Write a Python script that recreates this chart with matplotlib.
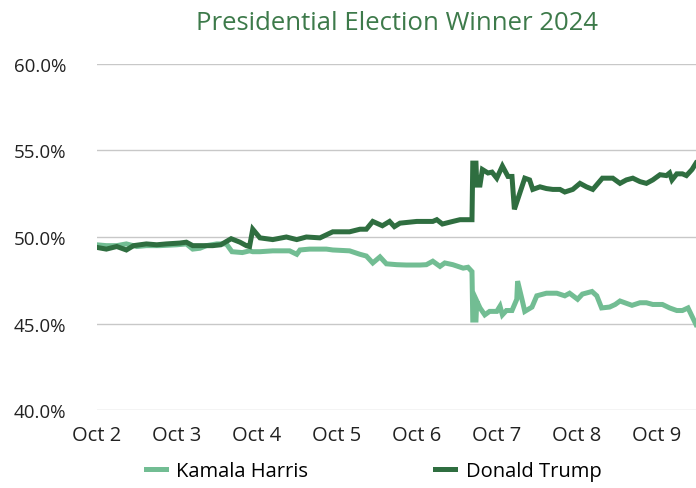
import matplotlib.pyplot as plt
from matplotlib.ticker import FuncFormatter

plt.rcParams['font.family'] = ['Open Sans', 'DejaVu Sans']

# days since Oct 2 (00:00) and win probability in percent
harris_day = [0.00, 0.12, 0.25, 0.37, 0.50, 0.62, 0.79, 1.00, 1.12, 1.20, 1.29, 1.37, 1.50, 1.62,
              1.69, 1.82, 1.91, 1.95, 2.04, 2.20, 2.41, 2.50, 2.54, 2.66, 2.87, 2.95, 3.16, 3.29,
              3.37, 3.45, 3.54, 3.62, 3.75, 3.87, 4.04, 4.12, 4.20, 4.29, 4.35, 4.45, 4.58, 4.64,
              4.69, 4.70, 4.74, 4.75, 4.79, 4.85, 4.91, 5.00, 5.04, 5.07, 5.12, 5.19, 5.25, 5.26,
              5.32, 5.35, 5.44, 5.50, 5.62, 5.75, 5.85, 5.91, 6.01, 6.07, 6.19, 6.25, 6.31, 6.41,
              6.48, 6.54, 6.60, 6.69, 6.79, 6.87, 6.95, 7.07, 7.16, 7.25, 7.32, 7.39, 7.49]
harris_pct = [49.55, 49.5, 49.5, 49.6, 49.45, 49.5, 49.5, 49.55, 49.6, 49.3, 49.35, 49.5, 49.6, 49.6,
              49.15, 49.1, 49.2, 49.15, 49.15, 49.2, 49.2, 49.0, 49.25, 49.3, 49.3, 49.25, 49.2, 49.0,
              48.9, 48.5, 48.85, 48.45, 48.4, 48.38, 48.38, 48.4, 48.6, 48.3, 48.5, 48.4, 48.2, 48.25,
              48.0, 45.2, 45.2, 46.3, 45.9, 45.5, 45.7, 45.7, 46.0, 45.5, 45.75, 45.75, 46.4, 47.45,
              46.3, 45.7, 45.95, 46.6, 46.75, 46.75, 46.6, 46.75, 46.4, 46.7, 46.85, 46.6, 45.9, 45.95,
              46.1, 46.3, 46.2, 46.05, 46.2, 46.2, 46.1, 46.1, 45.9, 45.75, 45.75, 45.9, 44.94]

trump_day = [0.00, 0.12, 0.25, 0.37, 0.46, 0.62, 0.75, 0.87, 1.04, 1.12, 1.20, 1.33, 1.45, 1.55,
             1.68, 1.79, 1.87, 1.91, 1.95, 2.04, 2.20, 2.37, 2.50, 2.62, 2.79, 2.95, 3.16, 3.29,
             3.37, 3.45, 3.57, 3.66, 3.72, 3.79, 4.00, 4.20, 4.25, 4.32, 4.45, 4.54, 4.69, 4.70,
             4.74, 4.75, 4.79, 4.82, 4.89, 4.94, 5.00, 5.07, 5.14, 5.19, 5.22, 5.35, 5.41, 5.45,
             5.54, 5.62, 5.70, 5.79, 5.85, 5.95, 6.04, 6.12, 6.20, 6.32, 6.45, 6.54, 6.62, 6.70,
             6.79, 6.87, 6.95, 7.04, 7.12, 7.16, 7.19, 7.25, 7.32, 7.37, 7.44, 7.49]
trump_pct = [49.4, 49.3, 49.45, 49.25, 49.5, 49.6, 49.55, 49.6, 49.65, 49.7, 49.5, 49.5, 49.5, 49.55,
             49.9, 49.7, 49.5, 49.45, 50.45, 49.95, 49.85, 50.0, 49.85, 50.0, 49.95, 50.3, 50.3, 50.45,
             50.45, 50.9, 50.65, 50.9, 50.6, 50.8, 50.9, 50.9, 51.0, 50.75, 50.9, 51.0, 51.0, 54.27,
             54.27, 53.0, 53.0, 53.9, 53.7, 53.75, 53.4, 54.1, 53.5, 53.5, 51.6, 53.4, 53.3, 52.75,
             52.9, 52.8, 52.75, 52.75, 52.6, 52.75, 53.1, 52.9, 52.75, 53.4, 53.4, 53.1, 53.3, 53.4,
             53.2, 53.1, 53.3, 53.6, 53.55, 53.7, 53.3, 53.65, 53.65, 53.55, 53.9, 54.27]

tick_labels = ['Oct 2', 'Oct 3', 'Oct 4', 'Oct 5', 'Oct 6', 'Oct 7', 'Oct 8', 'Oct 9']

harris_color = '#72bd93'
trump_color = '#2f6e40'

fig = plt.figure(figsize=(6.96, 4.89), dpi=100)
ax = fig.add_axes([0.139, 0.1595, 0.861, 0.7076])

ax.plot(harris_day, harris_pct, color=harris_color, lw=3.6, label='Kamala Harris',
        solid_joinstyle='miter')
ax.plot(trump_day, trump_pct, color=trump_color, lw=3.6, label='Donald Trump',
        solid_joinstyle='miter')

ax.set_xlim(0, 7.49)
ax.set_ylim(40, 60)
ax.set_yticks([40, 45, 50, 55, 60])
ax.yaxis.set_major_formatter(FuncFormatter(lambda v, p: f'{v:.1f}%'))
ax.set_xticks(range(len(tick_labels)))
ax.set_xticklabels(tick_labels)
ax.tick_params(length=0, labelsize=14.5, colors='#222222')
ax.tick_params(axis='x', pad=11)
ax.tick_params(axis='y', pad=22, labelsize=13.5)

ax.grid(axis='y', color='#c8c8c8', lw=1)
ax.set_axisbelow(True)
for s in ax.spines.values():
    s.set_visible(False)

fig.text(396.5 / 696, 1 - 23 / 489, 'Presidential Election Winner 2024', color='#3d7a4a',
         fontsize=18.5, ha='center', va='center')

fig.legend(loc='center', bbox_to_anchor=(0.537, 1 - 472 / 489), ncol=2, frameon=False,
           fontsize=14.5, columnspacing=6.3, handlelength=1.0, handletextpad=0.5)

fig.savefig('out.png', dpi=100)
